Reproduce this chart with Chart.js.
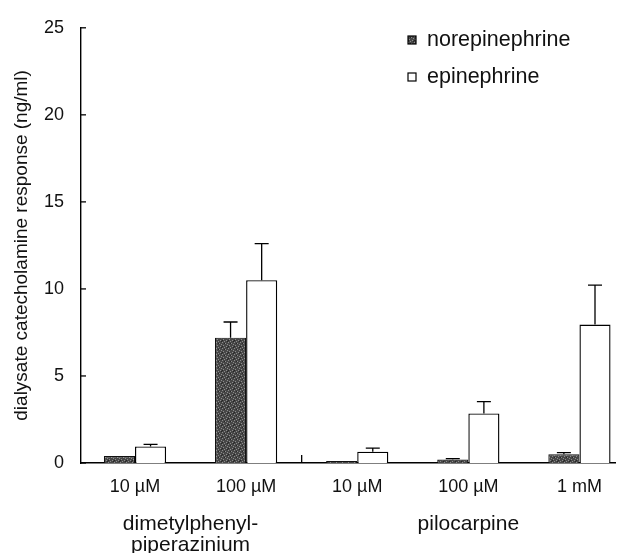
<!DOCTYPE html>
<html><head><meta charset="utf-8">
<script src="https://cdn.jsdelivr.net/npm/chart.js@4"></script>
<style>html,body{margin:0;padding:0;background:#fff}#wrap{width:633px;height:553px}</style>
</head><body><div id="wrap"><canvas id="c" width="633" height="553"></canvas></div>
<script>
// ---- data ----
const categories = ['10 \u00b5M', '100 \u00b5M', '10 \u00b5M', '100 \u00b5M', '1 mM'];
const groupLabels = [['dimetylphenyl-', 'piperazinium'], ['pilocarpine']];
const groupMembers = [[0, 1], [2, 3, 4]];
const seriesNames = ['norepinephrine', 'epinephrine'];
const norepinephrine = [0.4, 7.2, 0.12, 0.2, 0.5];
const norepinephrineErr = [0, 0.9, 0, 0.05, 0.1];
const epinephrine = [0.95, 10.5, 0.65, 2.85, 7.95];
const epinephrineErr = [0.12, 2.1, 0.2, 0.68, 2.27];
const yTicks = [0, 5, 10, 15, 20, 25];
const yTitle = 'dialysate catecholamine response (ng/ml)';

const FONT = "'Liberation Sans', Arial, Helvetica, sans-serif";

// speckled dark fill
function makePattern() {
  const p = document.createElement('canvas');
  p.width = 6; p.height = 6;
  const g = p.getContext('2d');
  g.fillStyle = '#474747'; g.fillRect(0, 0, 6, 6);
  g.fillStyle = '#8c8c8c';
  [[0,0],[3,1],[1,3],[4,4],[2,5],[5,2]].forEach(([a,b]) => g.fillRect(a, b, 1, 1));
  g.fillStyle = '#262626';
  [[2,1],[5,5],[0,4]].forEach(([a,b]) => g.fillRect(a, b, 1, 1));
  return document.getElementById('c').getContext('2d').createPattern(p, 'repeat');
}
const nePattern = makePattern();

const toPts = arr => arr.map((v, i) => ({ x: i + 1, y: v }));

const extras = {
  id: 'extras',
  afterDatasetsDraw(chart) {
    const ctx = chart.ctx;
    const xs = chart.scales.x, ys = chart.scales.y;
    const area = chart.chartArea;
    ctx.save();
    ctx.strokeStyle = '#000';
    ctx.lineWidth = 1.3;
    // error bars (upward only)
    const errs = [norepinephrineErr, epinephrineErr];
    const vals = [norepinephrine, epinephrine];
    chart.data.datasets.forEach((ds, d) => {
      const meta = chart.getDatasetMeta(d);
      meta.data.forEach((el, i) => {
        const e = errs[d][i];
        if (!e) return;
        const yt = ys.getPixelForValue(vals[d][i] + e);
        ctx.beginPath();
        ctx.moveTo(el.x, el.y);
        ctx.lineTo(el.x, yt);
        ctx.moveTo(el.x - 7, yt);
        ctx.lineTo(el.x + 7, yt);
        ctx.stroke();
      });
    });
    // inward y ticks
    yTicks.forEach(v => {
      const y = ys.getPixelForValue(v);
      ctx.beginPath();
      ctx.moveTo(area.left, y);
      ctx.lineTo(area.left + 5, y);
      ctx.stroke();
    });
    // group separator tick
    const sx = (xs.getPixelForValue(2) + xs.getPixelForValue(3)) / 2;
    ctx.beginPath();
    ctx.moveTo(sx, area.bottom);
    ctx.lineTo(sx, area.bottom - 8);
    ctx.stroke();
    // group labels
    ctx.fillStyle = '#111';
    ctx.font = '21px ' + FONT;
    ctx.textAlign = 'center';
    ctx.textBaseline = 'middle';
    groupLabels.forEach((lines, g) => {
      const m = groupMembers[g];
      const cx = m.reduce((s, i) => s + xs.getPixelForValue(i + 1), 0) / m.length;
      lines.forEach((t, k) => ctx.fillText(t, cx, area.bottom + 61 + k * 21));
    });
    // legend
    ctx.textAlign = 'left';
    ctx.font = '21.5px ' + FONT;
    chart.data.datasets.forEach((ds, d) => {
      const y = 40 + d * 37;
      ctx.fillStyle = ds.backgroundColor;
      ctx.fillRect(408, y - 4, 8, 8);
      ctx.lineWidth = 1.2;
      ctx.strokeRect(408, y - 4, 8, 8);
      ctx.fillStyle = '#111';
      ctx.fillText(ds.label, 427, y);
    });
    ctx.restore();
  }
};

new Chart(document.getElementById('c'), {
  type: 'bar',
  data: {
    datasets: [
      { label: seriesNames[0], data: toPts(norepinephrine), backgroundColor: nePattern, borderColor: '#111', borderWidth: 1.2 },
      { label: seriesNames[1], data: toPts(epinephrine), backgroundColor: '#ffffff', borderColor: '#000', borderWidth: 1.4 }
    ]
  },
  options: {
    responsive: false,
    animation: false,
    devicePixelRatio: 1,
    layout: { padding: { top: 23, right: 18, left: 0, bottom: 0 } },
    datasets: { bar: { categoryPercentage: 0.56, barPercentage: 1 } },
    plugins: { legend: { display: false }, tooltip: { enabled: false } },
    scales: {
      x: {
        type: 'linear', min: 0.514, max: 5.32, offset: false,
        afterBuildTicks: ax => { ax.ticks = categories.map((_, i) => ({ value: i + 1 })); },
        afterFit: s => { s.height = 90; },
        grid: { display: false, drawTicks: false, offset: false },
        border: { display: true, color: '#000', width: 1.4 },
        ticks: { color: '#111', padding: 13, maxRotation: 0, autoSkip: false, font: { family: FONT, size: 18 },
          callback: v => categories[v - 1] }
      },
      y: {
        min: 0, max: 25,
        afterBuildTicks: ax => { ax.ticks = yTicks.map(v => ({ value: v })); },
        afterFit: s => { s.width = 81; },
        grid: { display: false, drawTicks: false },
        border: { display: true, color: '#000', width: 1.4 },
        ticks: { color: '#111', padding: 17, font: { family: FONT, size: 18 } },
        title: { display: true, text: yTitle, color: '#111', font: { family: FONT, size: 19 }, padding: { top: 10, bottom: 0 } }
      }
    }
  },
  plugins: [extras]
});
</script></body></html>
